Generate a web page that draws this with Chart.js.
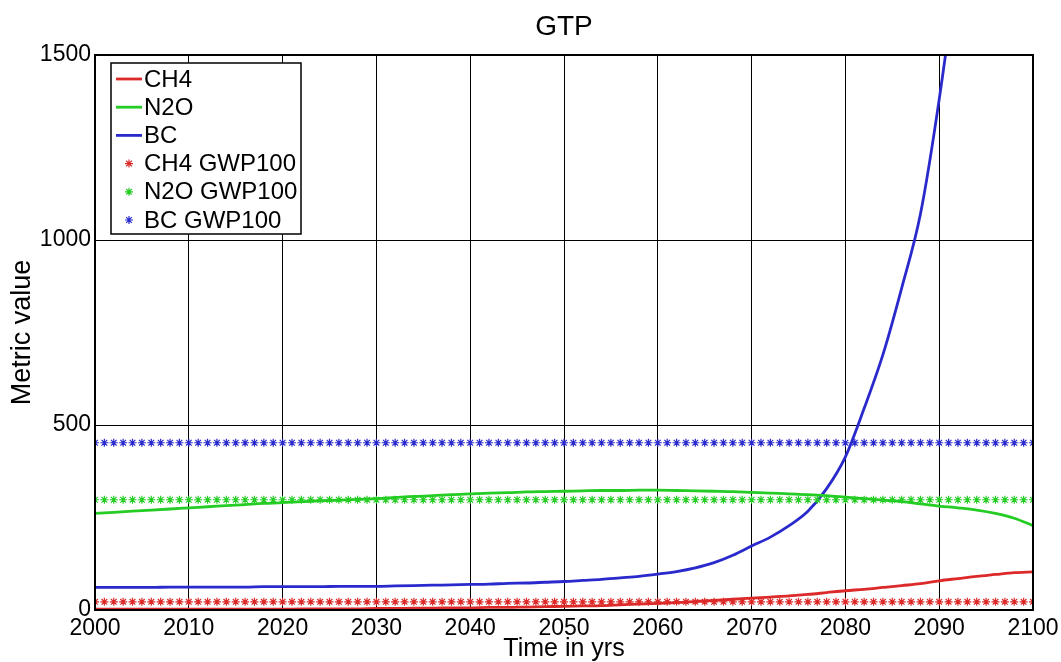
<!DOCTYPE html>
<html lang="en">
<head>
  <meta charset="UTF-8">
  <title>GTP</title>
  <script src="https://cdn.jsdelivr.net/npm/chart.js"></script>
  <style>
    body { margin: 0; background: #fff; }
  </style>
</head>
<body>
  <canvas id="gtpChart" width="1061" height="662"></canvas>
<script>
  // years sampled for the GTP curves (every 2 years)
  const curveYears = [2000, 2002, 2004, 2006, 2008, 2010, 2012, 2014, 2016, 2018,
    2020, 2022, 2024, 2026, 2028, 2030, 2032, 2034, 2036, 2038,
    2040, 2042, 2044, 2046, 2048, 2050, 2052, 2054, 2056, 2058,
    2060, 2062, 2064, 2066, 2068, 2070, 2072, 2074, 2076, 2078,
    2080, 2082, 2084, 2086, 2088, 2090, 2092, 2094, 2096, 2098, 2100];
  const ch4Gtp = [2, 2, 2, 2, 2, 2, 2, 2, 2, 2,
    2, 3, 3, 3, 3, 4, 4, 5, 5, 6,
    6, 7, 7, 8, 9, 10, 11, 12, 14, 16,
    18, 20, 23, 26, 29, 32, 35, 38, 42, 47,
    52, 56, 61, 66, 71, 79, 85, 91, 96, 101, 103];
  const n2oGtp = [261, 264, 267, 270, 273, 276, 279, 282, 285, 288,
    290, 293, 295, 297, 299, 301, 304, 307, 309, 312,
    314, 316, 317, 319, 320, 321, 322, 323, 323, 324,
    324, 323, 322, 321, 320, 318, 316, 314, 312, 309,
    305, 301, 297, 293, 287, 281, 276, 270, 261, 248, 228];
  const bcGtp = [61, 61, 61, 61, 62, 62, 62, 62, 62, 63,
    63, 63, 63, 64, 64, 64, 65, 66, 67, 68,
    69, 70, 72, 73, 75, 77, 80, 83, 87, 91,
    97, 104, 114, 128, 148, 173, 197, 228, 267, 328,
    414, 545, 690, 870, 1070, 1380, 1760, 2200, 2700, 3300, 4000];

  // GWP100 reference values (constant), one marker per year
  const gwpLabels = ['CH4 GWP100', 'N2O GWP100', 'BC GWP100'];
  const gwp100 = [22, 298, 452];
  const markerYears = [];
  for (let y = 2000; y <= 2100; y++) markerYears.push(y);

  const xTicks = [2000, 2010, 2020, 2030, 2040, 2050, 2060, 2070, 2080, 2090, 2100];
  const yTicks = [0, 500, 1000, 1500];

  const RED = '#dc2a2a', GREEN = '#24cc24', BLUE = '#2a2acc';
  const colors = [RED, GREEN, BLUE];

  function toPoints(xs, ys) {
    return xs.map((x, i) => ({ x: x, y: ys[i] }));
  }

  const lineSets = [['CH4', ch4Gtp], ['N2O', n2oGtp], ['BC', bcGtp]].map((s, i) => ({
    label: s[0],
    data: toPoints(curveYears, s[1]),
    borderColor: colors[i],
    backgroundColor: colors[i],
    borderWidth: 2.8,
    pointRadius: 0,
    cubicInterpolationMode: 'monotone',
    order: 2
  }));

  const markerSets = gwpLabels.map((lab, i) => ({
    label: lab,
    data: markerYears.map(x => ({ x: x, y: gwp100[i] })),
    showLine: false,
    pointStyle: 'star',
    pointRadius: 4,
    pointBorderWidth: 1.2,
    borderColor: colors[i],
    backgroundColor: colors[i],
    order: 1
  }));

  const fontFamily = '"Liberation Sans", Arial, sans-serif';

  // box round the plot + legend box inside the axes
  const framePlugin = {
    id: 'frame',
    afterDraw(chart) {
      const { ctx, chartArea: a } = chart;
      ctx.save();
      ctx.strokeStyle = '#000';
      ctx.lineWidth = 2;
      ctx.strokeRect(a.left, a.top, a.right - a.left, a.bottom - a.top);

      // legend
      const lx = a.left + 16, ly = a.top + 8, lw = 190, lh = 171;
      ctx.fillStyle = '#fff';
      ctx.fillRect(lx, ly, lw, lh);
      ctx.lineWidth = 1.5;
      ctx.strokeRect(lx, ly, lw, lh);
      ctx.font = '24px ' + fontFamily;
      ctx.textBaseline = 'middle';
      ctx.fillStyle = '#000';
      chart.data.datasets.forEach((ds, i) => {
        const ry = ly + 16 + i * 28.2;
        ctx.strokeStyle = ds.borderColor;
        if (ds.showLine === false) {
          ctx.lineWidth = 1.2;
          const cx = lx + 18, r = 4, d = r * Math.SQRT1_2;
          ctx.beginPath();
          ctx.moveTo(cx - r, ry); ctx.lineTo(cx + r, ry);
          ctx.moveTo(cx, ry - r); ctx.lineTo(cx, ry + r);
          ctx.moveTo(cx - d, ry - d); ctx.lineTo(cx + d, ry + d);
          ctx.moveTo(cx - d, ry + d); ctx.lineTo(cx + d, ry - d);
          ctx.stroke();
        } else {
          ctx.lineWidth = 2.8;
          ctx.beginPath();
          ctx.moveTo(lx + 5, ry);
          ctx.lineTo(lx + 31, ry);
          ctx.stroke();
        }
        ctx.fillText(ds.label, lx + 33, ry + 1);
      });
      ctx.restore();
    }
  };

  new Chart(document.getElementById('gtpChart').getContext('2d'), {
    type: 'line',
    data: { datasets: lineSets.concat(markerSets) },
    options: {
      responsive: false,
      animation: false,
      layout: { padding: { left: 0, right: 28, top: 0, bottom: 0 } },
      plugins: {
        legend: { display: false },
        tooltip: { enabled: false },
        title: {
          display: true,
          fullSize: false,
          text: 'GTP',
          color: '#000',
          font: { family: fontFamily, size: 28, weight: 'normal', lineHeight: 1.2 },
          padding: { top: 10, bottom: 11.4 }
        }
      },
      scales: {
        x: {
          type: 'linear',
          min: 2000,
          max: 2100,
          afterFit(scale) { scale.height = 52; scale.paddingLeft = 0; scale.paddingRight = 0; },
          afterBuildTicks(scale) { scale.ticks = xTicks.map(v => ({ value: v })); },
          ticks: {
            color: '#000',
            padding: 5,
            maxRotation: 0,
            autoSkip: false,
            font: { family: fontFamily, size: 23 },
            callback: v => String(v)
          },
          grid: { color: '#000', lineWidth: 1, drawTicks: false },
          border: { color: '#000', width: 2 },
          title: {
            display: true,
            text: 'Time in yrs',
            color: '#000',
            font: { family: fontFamily, size: 25, lineHeight: 1 },
            padding: { top: 0, bottom: 0 }
          }
        },
        y: {
          min: 0,
          max: 1500,
          afterFit(scale) { scale.width = 95; scale.paddingTop = 0; scale.paddingBottom = 0; },
          afterBuildTicks(scale) { scale.ticks = yTicks.map(v => ({ value: v })); },
          ticks: {
            color: '#000',
            padding: 4,
            font: { family: fontFamily, size: 23 },
            callback: v => String(v)
          },
          grid: { color: '#000', lineWidth: 1, drawTicks: false },
          border: { color: '#000', width: 2 },
          title: {
            display: true,
            text: 'Metric value',
            color: '#000',
            font: { family: fontFamily, size: 27, lineHeight: 1 },
            padding: { top: 9, bottom: 0 }
          }
        }
      }
    },
    plugins: [framePlugin]
  });
</script>
</body>
</html>
